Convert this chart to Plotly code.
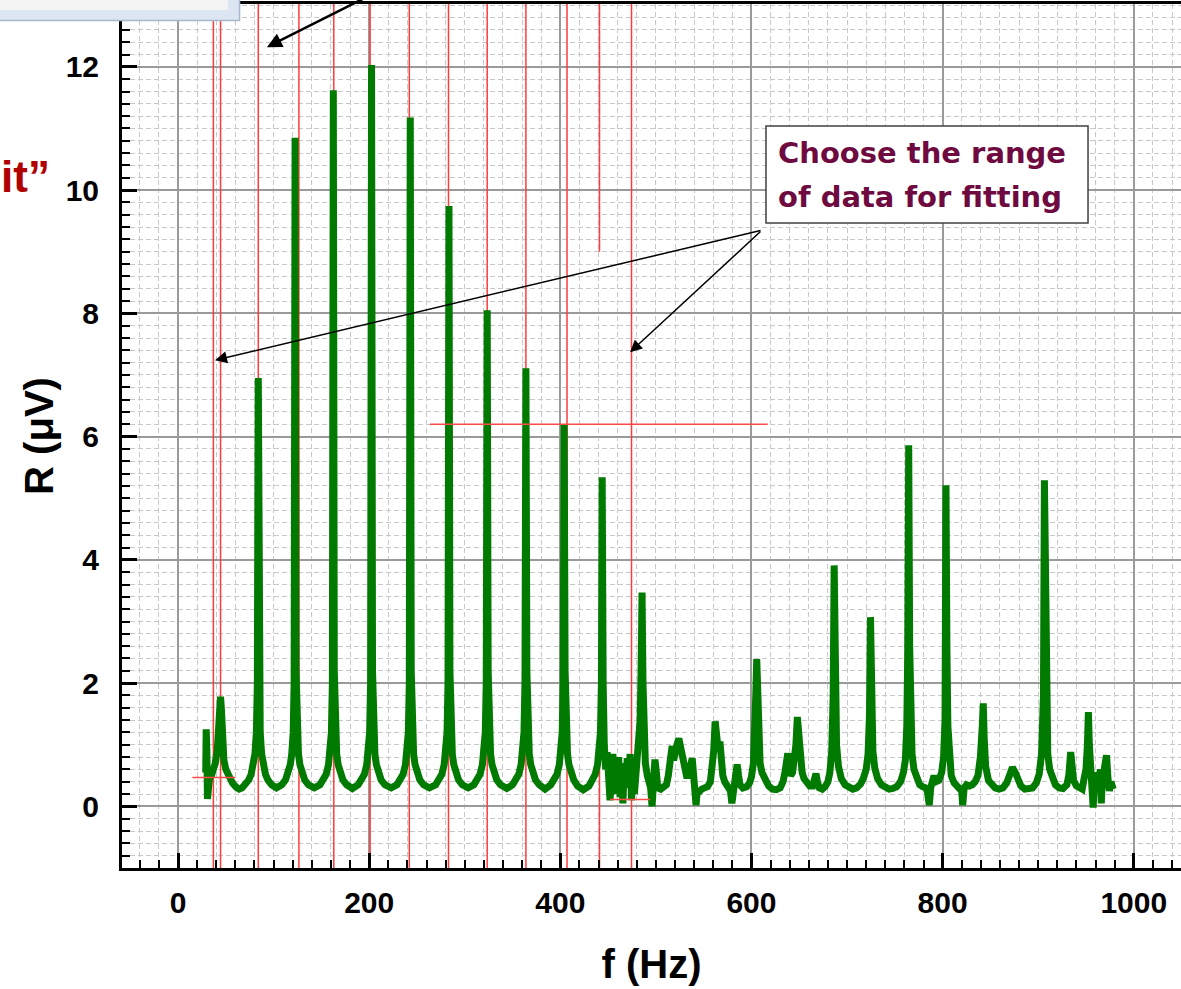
import plotly.graph_objects as go

# ---- spectrum data ----
freq_hz = [
    29.0, 29.5, 30.2, 30.8, 31.5, 33, 35, 37, 39, 41, 42.5, 43.5, 44.5, 45.5, 46.5, 48, 50, 53, 57, 61, 64, 67, 70, 74, 76.5, 79, 80.5, 82, 83, 84, 85, 86, 87.5, 89, 91.5, 94, 98, 103,
    108.5, 112.5, 115, 117.5, 119, 120.5, 121.5, 122.5, 123.5, 124.5, 126, 127.5, 130, 132.5, 136.5, 142.5,
    148.5, 152.5, 155, 157.5, 159, 160.5, 161.5, 162.5, 163.5, 164.5, 166, 167.5, 170, 172.5, 176.5, 182.5,
    188.5, 192.5, 195, 197.5, 199, 200.5, 201.5, 202.5, 203.5, 204.5, 206, 207.5, 210, 212.5, 216.5, 223,
    229, 233, 235.5, 238, 239.5, 241, 242, 243, 244, 245, 246.5, 248, 250.5, 253, 257, 263,
    269.5, 273.5, 276, 278.5, 280, 281.5, 282.5, 283.5, 284.5, 285.5, 287, 288.5, 291, 293.5, 297.5, 303.5,
    309.5, 313.5, 316, 318.5, 320, 321.5, 322.5, 323.5, 324.5, 325.5, 327, 328.5, 331, 333.5, 337.5, 344,
    350, 354, 356.5, 359, 360.5, 362, 363, 364, 365, 366, 367.5, 369, 371.5, 374, 378, 384,
    390, 394, 396.5, 399, 400.5, 402, 403, 404, 405, 406, 407.5, 409, 411.5, 414, 418, 424,
    430, 434, 436.5, 439, 440.5, 442, 443, 443.8, 444.8, 446, 447.5,
    449, 450.5, 452, 453.5, 455, 456.5, 458, 459.5, 461, 462.5, 464, 465.5, 467, 468.5, 470, 471.5, 473, 474.5, 476, 477.5, 479, 480.5, 482, 483.5, 484.5, 485.5, 486.5, 487.5, 489, 491, 493, 494.5, 496, 497.5, 499, 500.5, 502, 505, 508, 511, 513, 515, 517, 518.5, 520, 522, 524, 526, 528, 530, 532, 534, 536, 538, 539.5, 541, 542, 543, 545, 548, 551, 554, 557, 559, 560.5, 562, 563.5, 565, 567, 568.5, 570, 572, 574, 576, 578, 579.5, 581, 583, 585, 586.5, 588, 591, 595, 598, 600, 602, 603.5, 604.5, 605.5, 606.5, 607.5, 609, 611, 614, 618, 622, 626, 630, 633, 635, 636.5, 638, 639.5, 641, 643, 645, 646.5, 648, 649.5, 651, 653, 655, 658, 661, 664, 666, 667.5, 669, 671, 674, 677, 680, 682, 684, 685.5, 686.5, 687.5, 689, 691, 694, 698, 702, 706, 710, 714, 717, 720, 722, 723.5, 724.5, 725.5, 727, 729, 732, 736, 740, 744, 748, 752, 756, 759, 761, 762.5, 763.5, 764.5, 765.5, 766.5, 768, 770, 773, 776, 779, 782, 784, 786, 787.5, 789, 791, 793, 796, 799, 801, 802.5, 803.5, 804.5, 805.5, 807, 809, 812, 815, 818, 820, 821, 822.5, 825, 828, 831, 834, 837, 839.5, 841.5, 842.5, 843.5, 845, 848, 851, 855, 859, 863, 867, 870, 873, 876, 879, 882, 886, 890, 894, 898, 901, 903.5, 905.5, 906.5, 907.5, 908.5, 910, 912, 915, 918, 922, 926, 930, 932, 934, 935.5, 937, 940, 943, 946, 948, 950, 951.5, 952.5, 953.5, 955, 956.5, 957.5, 958.5, 960, 962, 963.5, 965, 966, 967, 968.5, 970, 971.5, 973, 974.5, 976, 977.5, 978.5,
]
r_uv = [
    0.55, 1.25, 0.9, 0.12, 0.35, 0.45, 0.5, 0.58, 0.7, 0.9, 1.2, 1.6, 1.78, 1.55, 1.0, 0.75, 0.6, 0.47, 0.38, 0.31, 0.28, 0.3, 0.35, 0.43, 0.52, 0.68, 0.85, 1.2, 2.0, 6.95, 2.2, 1.2, 0.85, 0.68, 0.52, 0.43, 0.35, 0.3,
    0.35, 0.43, 0.52, 0.68, 0.85, 1.2, 2.0, 10.85, 2.2, 1.2, 0.85, 0.68, 0.52, 0.43, 0.35, 0.3,
    0.35, 0.43, 0.52, 0.68, 0.85, 1.2, 2.0, 11.62, 2.2, 1.2, 0.85, 0.68, 0.52, 0.43, 0.35, 0.29,
    0.35, 0.43, 0.52, 0.68, 0.85, 1.2, 2.0, 12.03, 2.2, 1.2, 0.85, 0.68, 0.52, 0.43, 0.35, 0.3,
    0.35, 0.43, 0.52, 0.68, 0.85, 1.2, 2.0, 11.18, 2.2, 1.2, 0.85, 0.68, 0.52, 0.43, 0.35, 0.3,
    0.35, 0.43, 0.52, 0.68, 0.85, 1.2, 2.0, 9.74, 2.2, 1.2, 0.85, 0.68, 0.52, 0.43, 0.35, 0.3,
    0.35, 0.43, 0.52, 0.68, 0.85, 1.2, 2.0, 8.05, 2.2, 1.2, 0.85, 0.68, 0.52, 0.43, 0.35, 0.29,
    0.35, 0.43, 0.52, 0.68, 0.85, 1.2, 2.0, 7.11, 2.2, 1.2, 0.85, 0.68, 0.52, 0.43, 0.35, 0.28,
    0.35, 0.43, 0.52, 0.68, 0.85, 1.2, 2.0, 6.2, 2.2, 1.2, 0.85, 0.68, 0.52, 0.43, 0.33, 0.27,
    0.33, 0.42, 0.52, 0.68, 0.85, 1.2, 2.0, 5.34, 2.0, 1.0, 0.6,
    0.88, 0.5, 0.1, 0.45, 0.85, 0.35, 0.75, 0.2, 0.8, 0.15, 0.55, 0.05, 0.7, 0.35, 0.78, 0.3, 0.85, 0.1, 0.55, 0.2, 0.5, 0.7, 0.9, 1.4, 2.2, 3.47, 2.0, 1.1, 0.7, 0.5, 0.35, 0.3, 0.0, 0.5, 0.76, 0.55, 0.3, 0.28, 0.3, 0.35, 0.5, 0.8, 0.98, 0.75, 0.9, 1.0, 1.1, 0.95, 0.7, 0.55, 0.5, 0.5, 0.6, 0.78, 0.5, 0.12, 0.02, 0.2, 0.25, 0.28, 0.3, 0.32, 0.4, 0.6, 0.9, 1.38, 1.0, 0.95, 1.05, 0.7, 0.5, 0.4, 0.35, 0.3, 0.25, 0.05, 0.3, 0.5, 0.68, 0.5, 0.35, 0.3, 0.32, 0.38, 0.48, 0.7, 1.1, 1.8, 2.39, 1.6, 1.0, 0.7, 0.55, 0.42, 0.33, 0.28, 0.27, 0.3, 0.4, 0.55, 0.7, 0.86, 0.6, 0.5, 0.55, 0.75, 1.0, 1.45, 1.1, 0.75, 0.55, 0.45, 0.38, 0.33, 0.33, 0.42, 0.53, 0.4, 0.3, 0.28, 0.32, 0.4, 0.55, 0.9, 1.8, 3.91, 2.0, 1.0, 0.65, 0.45, 0.35, 0.3, 0.28, 0.3, 0.36, 0.45, 0.6, 0.85, 1.5, 3.07, 1.6, 0.9, 0.62, 0.45, 0.35, 0.3, 0.28, 0.29, 0.32, 0.4, 0.55, 0.75, 1.3, 2.5, 5.86, 2.6, 1.4, 0.85, 0.6, 0.42, 0.35, 0.32, 0.3, 0.25, 0.02, 0.3, 0.45, 0.5, 0.4, 0.42, 0.55, 0.8, 1.4, 5.21, 2.5, 1.3, 0.75, 0.5, 0.38, 0.32, 0.3, 0.25, 0.02, 0.3, 0.35, 0.33, 0.35, 0.4, 0.5, 0.8, 1.3, 1.67, 1.1, 0.65, 0.42, 0.35, 0.3, 0.28, 0.3, 0.38, 0.5, 0.63, 0.55, 0.42, 0.33, 0.28, 0.28, 0.3, 0.38, 0.52, 0.85, 1.8, 5.29, 2.8, 1.4, 0.85, 0.6, 0.45, 0.35, 0.3, 0.29, 0.35, 0.5, 0.88, 0.6, 0.42, 0.33, 0.3, 0.28, 0.45, 0.6, 1.0, 1.53, 1.0, 0.5, 0.35, -0.02, 0.3, 0.35, 0.55, 0.35, 0.6, 0.05, 0.4, 0.55, 0.7, 0.83, 0.45, 0.25, 0.4, 0.32, 0.28,
]

# red marker lines (fit range / peak markers), in Hz
marker_lines_hz = [37, 44.5, 84, 126.5, 163, 201, 242, 283, 323.5, 364, 407, 474.5]
split_line_hz = 441
split_line_top = [9.0, 13.02]
split_line_bottom = [-1.0, 0.96]
hline_levels = [6.2, 0.47, 0.11]
hline_spans = [[263.6, 617], [15, 60], [452, 494]]

x_range = [-58.6, 1049.4]
y_range = [-1.0, 13.02]
x_ticks = [0, 200, 400, 600, 800, 1000]
y_ticks = [0, 2, 4, 6, 8, 10, 12]

box_lines = ["Choose the range", "of data for fitting"]
arrow_tail = [611, 9.35]
arrow_tips = [[38.7, 7.24], [473, 7.37]]
top_arrow_tail = [195.6, 13.12]
top_arrow_tip = [93, 12.32]

fig = go.Figure()
fig.add_trace(go.Scatter(x=freq_hz, y=r_uv, mode="lines",
                         line=dict(color="#007A00", width=7), showlegend=False,
                         hoverinfo="skip"))

shapes = []
for f in marker_lines_hz:
    shapes.append(dict(type="line", xref="x", yref="y", x0=f, x1=f, y0=y_range[0], y1=y_range[1],
                       line=dict(color="#FF3B3B", width=1.5), layer="between"))
for seg in (split_line_top, split_line_bottom):
    shapes.append(dict(type="line", xref="x", yref="y", x0=split_line_hz, x1=split_line_hz,
                       y0=seg[0], y1=seg[1], line=dict(color="#FF3B3B", width=1.5), layer="between"))
for lvl, span in zip(hline_levels, hline_spans):
    shapes.append(dict(type="line", xref="x", yref="y", x0=span[0], x1=span[1], y0=lvl, y1=lvl,
                       line=dict(color="#FF4A4A", width=1.5), layer="above"))

# remnant of window frame at top-left corner
shapes.append(dict(type="rect", xref="paper", yref="paper", x0=-0.118, x1=0.111, y0=0.981, y1=1.01,
                   fillcolor="#DCE6F2", line=dict(color="#A8B8CC", width=1.5), layer="above"))
shapes.append(dict(type="rect", xref="paper", yref="paper", x0=-0.118, x1=0.100, y0=0.993, y1=1.01,
                   fillcolor="#F4F4F4", line=dict(width=0), layer="above"))
# text box frame
shapes.append(dict(type="rect", xref="paper", yref="paper", x0=0.6081, x1=0.9122, y0=0.7465, y1=0.8588,
                   fillcolor="white", line=dict(color="#404040", width=1.5), layer="above"))

box_font = dict(family="DejaVu Sans", size=29, color="#6E0A40")
annotations = [
    dict(xref="paper", yref="paper", x=0.6176, y=0.8275, text="<b>" + box_lines[0] + "</b>",
         showarrow=False, xanchor="left", yanchor="middle", font=box_font),
    dict(xref="paper", yref="paper", x=0.6176, y=0.7766, text="<b>" + box_lines[1] + "</b>",
         showarrow=False, xanchor="left", yanchor="middle", font=box_font),
    dict(xref="paper", yref="paper", x=-0.066, y=0.80, text="<b>it”</b>", showarrow=False,
         xanchor="right", yanchor="middle",
         font=dict(family="Liberation Sans", size=44, color="#B00000")),
]
for tip in arrow_tips:
    annotations.append(dict(xref="x", yref="y", axref="x", ayref="y", x=tip[0], y=tip[1],
                            ax=arrow_tail[0], ay=arrow_tail[1], text="", showarrow=True,
                            arrowhead=2, arrowsize=1.6, arrowwidth=1.5, arrowcolor="black"))
annotations.append(dict(xref="x", yref="y", axref="x", ayref="y", x=top_arrow_tip[0], y=top_arrow_tip[1],
                        ax=top_arrow_tail[0], ay=top_arrow_tail[1], text="", showarrow=True,
                        arrowhead=2, arrowsize=1.2, arrowwidth=2.5, arrowcolor="black"))

tick_font = dict(family="Liberation Sans Narrow, Arial Narrow, Liberation Sans", size=30, color="black")
title_font = dict(family="Liberation Sans, Arial", size=40, color="black")

fig.update_layout(
    width=1181, height=989,
    margin=dict(l=122, r=0, t=4, b=121, autoexpand=False),
    paper_bgcolor="white", plot_bgcolor="white",
    shapes=shapes, annotations=annotations,
    xaxis=dict(range=x_range, tickvals=x_ticks, ticktext=["<b>%d</b>" % v for v in x_ticks],
               ticks="inside", ticklen=15, tickwidth=2.5, tickcolor="black", automargin=False,
               showline=True, linecolor="black", linewidth=3, mirror=True,
               showgrid=True, gridcolor="#9A9A9A", gridwidth=1.5, zeroline=False,
               ticklabelstandoff=6, tickfont=tick_font,
               minor=dict(dtick=20, tick0=0, ticks="inside", ticklen=8, tickwidth=2, tickcolor="black",
                          showgrid=True, gridcolor="#C8C8C8", gridwidth=1, griddash="5px,3px"),
               title=dict(text="<b>f (Hz)</b>", font=title_font, standoff=32)),
    yaxis=dict(range=y_range, tickvals=y_ticks, ticktext=["<b>%d</b>" % v for v in y_ticks],
               ticks="inside", ticklen=15, tickwidth=2.5, tickcolor="black", automargin=False,
               showline=True, linecolor="black", linewidth=3, mirror=False,
               showgrid=True, gridcolor="#9A9A9A", gridwidth=1.5, zeroline=False,
               ticklabelstandoff=14, tickfont=tick_font,
               minor=dict(dtick=0.2, tick0=0, ticks="inside", ticklen=8, tickwidth=2, tickcolor="black",
                          showgrid=True, gridcolor="#C8C8C8", gridwidth=1, griddash="5px,3px"),
               title=dict(text="<b>R (μV)</b>", font=title_font, standoff=0)),
)

fig.write_html("out.html", config={"displayModeBar": False},
               post_script="document.body.style.margin='0';document.body.style.overflow='hidden';")
